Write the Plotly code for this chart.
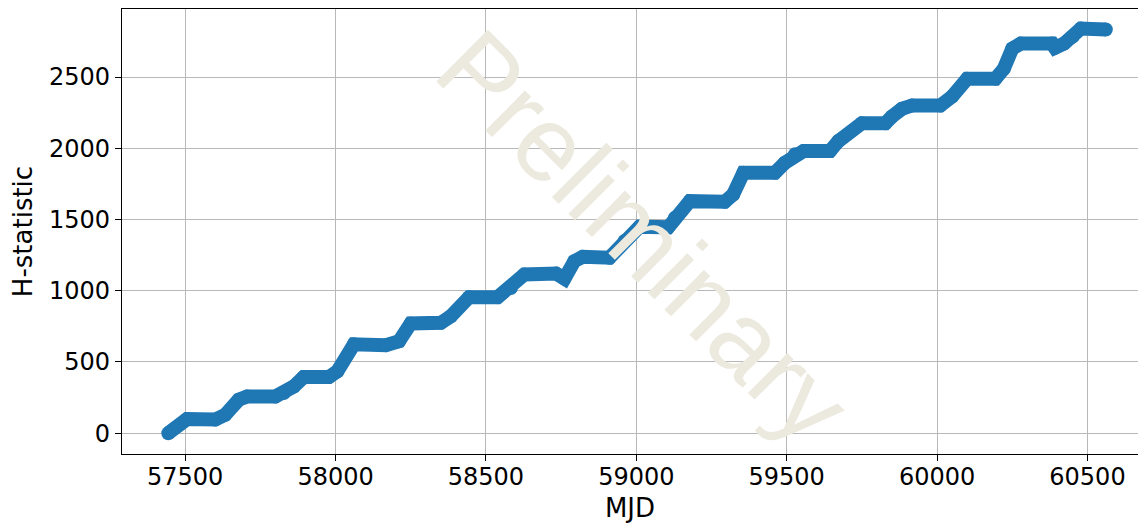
import plotly.graph_objs as go

# H-test cumulative statistic vs. time
mjd = [57444, 57506, 57600, 57633, 57678, 57706, 57800, 57828, 57861, 57894,
       57978, 58006, 58061, 58167, 58211, 58250, 58350, 58383, 58444, 58539,
       58583, 58628, 58733, 58761, 58794, 58822, 58911, 58961, 59011, 59106,
       59128, 59178, 59294, 59322, 59356, 59461, 59494, 59528, 59556, 59644,
       59672, 59750, 59828, 59850, 59883, 59917, 60011, 60050, 60100, 60194,
       60222, 60250, 60278, 60383, 60392, 60422, 60450, 60478, 60561]
h_stat = [0, 99, 96, 129, 235, 258, 258, 282, 328, 394,
          394, 434, 624, 618, 645, 770, 775, 821, 955, 955,
          1019, 1114, 1121, 1085, 1208, 1239, 1232, 1349, 1450, 1445,
          1512, 1629, 1625, 1676, 1829, 1829, 1899, 1958, 1981, 1981,
          2051, 2176, 2176, 2223, 2277, 2301, 2301, 2364, 2489, 2489,
          2559, 2700, 2735, 2735, 2705, 2735, 2782, 2841, 2834]

x_ticks = [57500, 58000, 58500, 59000, 59500, 60000, 60500]
x_labels = ['57500', '58000', '58500', '59000', '59500', '60000', '60500']
y_ticks = [0, 500, 1000, 1500, 2000, 2500]
y_labels = ['0', '500', '1000', '1500', '2000', '2500']

blue = '#1f77b4'

trace = go.Scatter(x=mjd, y=h_stat, mode='lines+markers',
                   line=dict(color=blue, width=14),
                   marker=dict(color=blue, size=14),
                   showlegend=False)

axis_style = dict(showline=True, linecolor='black', linewidth=1.2,
                  ticks='outside', ticklen=6, tickwidth=1.2, tickcolor='black',
                  showgrid=True, gridcolor='#b8b8b8', gridwidth=1.3,
                  zeroline=False, automargin=False,
                  tickfont=dict(family='DejaVu Sans', size=24, color='black'))

# the page puts the figure 8px in from the top-left corner
layout = go.Layout(width=1130, height=517,
                   margin=dict(l=114, r=0, t=1, b=71),
                   paper_bgcolor='white', plot_bgcolor='white',
                   xaxis=dict(axis_style, mirror=True, range=[57290, 60668],
                              tickvals=x_ticks, ticktext=x_labels,
                              ticklabelstandoff=-5,
                              title=dict(text='MJD', standoff=8,
                                         font=dict(family='DejaVu Sans', size=26, color='black'))),
                   yaxis=dict(axis_style, mirror=False, range=[-146, 2978],
                              tickvals=y_ticks, ticktext=y_labels,
                              title=dict(text='H-statistic', standoff=8,
                                         font=dict(family='DejaVu Sans', size=26, color='black'))),
                   annotations=[dict(text='Preliminary', xref='x', yref='y',
                                     x=59027, y=1380, showarrow=False, textangle=45,
                                     font=dict(family='Liberation Sans', size=106,
                                               color='rgb(236,233,222)'))])

fig = go.Figure(data=[trace], layout=layout)
fig.write_html("out.html")
